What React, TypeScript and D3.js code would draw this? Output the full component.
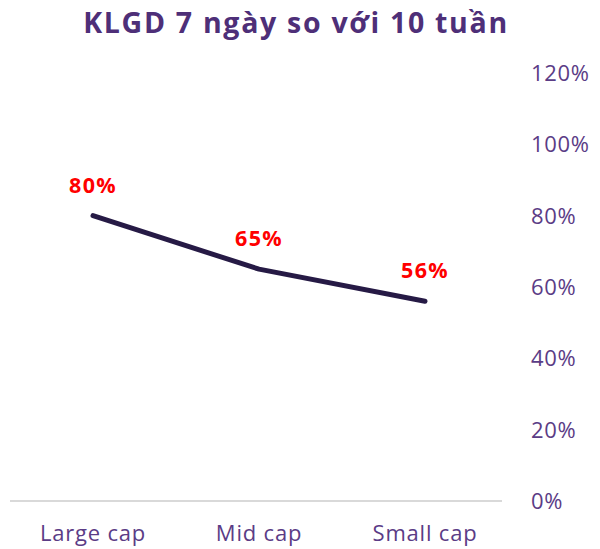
import React from "react";
import * as d3 from "d3";

const categories = ["Large cap", "Mid cap", "Small cap"];
const values = [0.8, 0.65, 0.56];
const valueLabels = ["80%", "65%", "56%"];
const yTicks = [0, 0.2, 0.4, 0.6, 0.8, 1.0, 1.2];

const W = 600;
const H = 549;
const FONT = "'Open Sans', sans-serif";
const PURPLE = "#5b3c86";

export default function App() {
  const x = d3.scaleBand<string>().domain(categories).range([10, 508]);
  const y = d3.scaleLinear().domain([0, 1.2]).range([501, 73]);
  const cx = (c: string) => (x(c) ?? 0) + x.bandwidth() / 2;

  const line = d3
    .line<number>()
    .x((_, i) => cx(categories[i]))
    .y((d) => y(d));

  return (
    <svg width={W} height={H} style={{ position: "absolute", left: 0, top: 0 }}>
      <rect width={W} height={H} fill="#fff" />
      <text x={296} y={33} textAnchor="middle" fontFamily={FONT} fontWeight={700} fontSize={28.5} letterSpacing={1.7} fill="#4e2f78">
        KLGD 7 ngày so với 10 tuần
      </text>

      <line x1={10} x2={502} y1={y(0)} y2={y(0)} stroke="#d9d9d9" strokeWidth={2} />

      {yTicks.map((t) => (
        <text key={t} x={531} y={y(t)} dy="0.36em" fontFamily={FONT} fontSize={22} letterSpacing={0.7} fill={PURPLE}>
          {d3.format(".0%")(t)}
        </text>
      ))}

      {categories.map((c) => (
        <text key={c} x={cx(c)} y={541} textAnchor="middle" fontFamily={FONT} fontSize={22} letterSpacing={0.8} fill={PURPLE}>
          {c}
        </text>
      ))}

      <path d={line(values) ?? ""} fill="none" stroke="#261a45" strokeWidth={5} strokeLinecap="round" strokeLinejoin="round" />

      {values.map((v, i) => (
        <text key={i} x={cx(categories[i])} y={y(v) - 23} textAnchor="middle" fontFamily={FONT} fontWeight={700} fontSize={21.5} letterSpacing={1.3} fill="#ff0000">
          {valueLabels[i]}
        </text>
      ))}
    </svg>
  );
}
